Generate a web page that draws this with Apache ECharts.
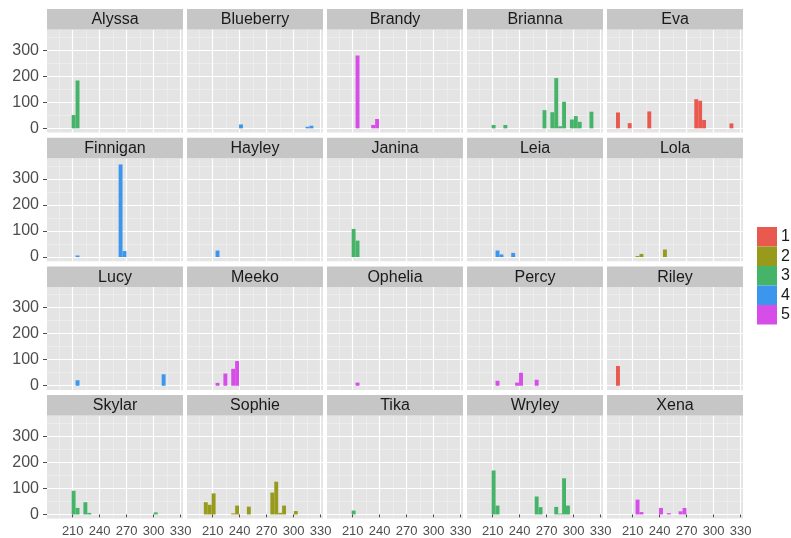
<!DOCTYPE html>
<html>
<head>
<meta charset="utf-8">
<script src="https://cdn.jsdelivr.net/npm/echarts@6/dist/echarts.min.js"></script>
<style>
  html, body { margin: 0; padding: 0; background: #ffffff; }
  #chart { width: 791px; height: 538px; }
</style>
</head>
<body>
<div id="chart"></div>
<script>
// Facet labels, in reading order (5 columns x 4 rows)
const panelNames = [
  'Alyssa', 'Blueberry', 'Brandy', 'Brianna', 'Eva',
  'Finnigan', 'Hayley', 'Janina', 'Leia', 'Lola',
  'Lucy', 'Meeko', 'Ophelia', 'Percy', 'Riley',
  'Skylar', 'Sophie', 'Tika', 'Wryley', 'Xena'
];
// Fill group of each facet
const panelGroups = [3, 4, 5, 3, 1, 4, 4, 3, 4, 2, 4, 5, 5, 5, 1, 3, 2, 3, 3, 5];
const groupNames = ['1', '2', '3', '4', '5'];

// Histogram bins: [bin centre, count]
const BIN_WIDTH = 4.35;
const alyssa = [[211, 51], [215.35, 184]];
const blueberry = [[241.45, 15], [315.4, 6], [319.75, 10]];
const brandy = [[215.35, 280], [232.75, 13], [237.1, 36]];
const brianna = [[211, 13], [224.05, 13], [267.55, 70], [276.25, 62], [280.6, 193], [284.95, 8],
                 [289.3, 102], [298, 34], [302.35, 47], [306.7, 25], [319.75, 64]];
const eva = [[193.6, 61], [206.65, 20], [228.4, 65], [280.6, 112], [284.95, 106], [289.3, 32], [319.75, 19]];
const finnigan = [[215.35, 6], [263.2, 356], [267.55, 23]];
const hayley = [[215.35, 25]];
const janina = [[211, 108], [215.35, 63]];
const leia = [[215.35, 25], [219.7, 10], [232.75, 16]];
const lola = [[215.35, 4], [219.7, 12], [245.8, 29]];
const lucy = [[215.35, 21], [311.05, 44]];
const meeko = [[215.35, 11], [224.05, 47], [232.75, 65], [237.1, 95]];
const ophelia = [[215.35, 12]];
const percy = [[215.35, 19], [237.1, 12], [241.45, 50], [258.85, 23]];
const riley = [[193.6, 76]];
const skylar = [[211, 91], [215.35, 25], [224.05, 47], [228.4, 6], [302.35, 8]];
const sophie = [[202.3, 47], [206.65, 37], [211, 81], [232.75, 4], [237.1, 34], [250.15, 30],
                [276.25, 84], [280.6, 126], [284.95, 6], [289.3, 34], [302.35, 13]];
const tika = [[211, 15]];
const wryley = [[211, 169], [215.35, 34], [258.85, 69], [263.2, 28], [280.6, 29], [284.95, 3],
                [289.3, 139], [293.65, 34]];
const xena = [[215.35, 57], [219.7, 9], [241.45, 25], [250.15, 5], [263.2, 12], [267.55, 25]];

const panelData = [
  alyssa, blueberry, brandy, brianna, eva,
  finnigan, hayley, janina, leia, lola,
  lucy, meeko, ophelia, percy, riley,
  skylar, sophie, tika, wryley, xena
];

// Axis ticks
const xTicks = [210, 240, 270, 300, 330];
const xMinorTicks = [195, 225, 255, 285, 315];
const yTicks = [0, 100, 200, 300];
const yMinorTicks = [50, 150, 250, 350];
const X_MIN = 181.4, X_MAX = 332.6;
const Y_MIN = -16, Y_MAX = 380;

// Styling
const groupColors = ['#E85A50', '#989A1C', '#45B368', '#3D96EE', '#D64DE8'];
const PANEL_BG = '#E4E4E4';
const STRIP_BG = '#C6C6C6';
const AXIS_TEXT = '#4D4D4D';

// Facet layout
const NCOL = 5;
const LEFT0 = 47, COL_PITCH = 140, PANEL_W = 136;
const TOP0 = 29.5, ROW_PITCH = 128.7, PANEL_H = 103, STRIP_H = 20.5;

const grids = [], xAxes = [], yAxes = [], minorX = [], minorY = [], series = [], graphics = [];

panelNames.forEach((name, i) => {
  const col = i % NCOL, row = Math.floor(i / NCOL);
  const left = LEFT0 + col * COL_PITCH;
  const top = TOP0 + row * ROW_PITCH;
  const bottomRow = row === 3, leftCol = col === 0;

  grids.push({
    left: left, top: top, width: PANEL_W, height: PANEL_H,
    show: true, backgroundColor: PANEL_BG, borderWidth: 0
  });

  xAxes.push({
    gridIndex: i, type: 'value', min: X_MIN, max: X_MAX, z: 1,
    axisLine: { show: false },
    axisTick: { show: bottomRow, length: 3, customValues: xTicks, lineStyle: { color: AXIS_TEXT } },
    axisLabel: {
      show: bottomRow, customValues: xTicks, margin: 6,
      fontFamily: "'Liberation Sans', Arial, sans-serif",
      fontSize: 13, color: AXIS_TEXT
    },
    splitLine: { show: true, lineStyle: { color: '#FFFFFF', width: 1.2 } }
  });
  yAxes.push({
    gridIndex: i, type: 'value', min: Y_MIN, max: Y_MAX, z: 1,
    axisLine: { show: false },
    axisTick: { show: leftCol, length: 4, customValues: yTicks, lineStyle: { color: AXIS_TEXT } },
    axisLabel: {
      show: leftCol, customValues: yTicks, margin: 8,
      fontFamily: "'Liberation Sans', Arial, sans-serif", fontSize: 16, color: AXIS_TEXT
    },
    splitLine: { show: true, lineStyle: { color: '#FFFFFF', width: 1.2 } }
  });

  // thinner minor grid lines
  minorX.push({
    gridIndex: i, type: 'value', min: X_MIN, max: X_MAX, z: 0,
    axisLine: { show: false }, axisLabel: { show: false },
    axisTick: { show: false, customValues: xMinorTicks },
    splitLine: { show: true, lineStyle: { color: '#F1F1F1', width: 0.6 } }
  });
  minorY.push({
    gridIndex: i, type: 'value', min: Y_MIN, max: Y_MAX, z: 0,
    axisLine: { show: false }, axisLabel: { show: false },
    axisTick: { show: false, customValues: yMinorTicks },
    splitLine: { show: true, lineStyle: { color: '#F1F1F1', width: 0.6 } }
  });

  // facet strip
  graphics.push({
    type: 'rect', left: left, top: top - STRIP_H, z: 10, silent: true,
    shape: { width: PANEL_W, height: STRIP_H },
    style: { fill: STRIP_BG }
  });
  graphics.push({
    type: 'text', z: 11, silent: true,
    x: left + PANEL_W / 2, y: top - STRIP_H / 2 + 0.5,
    style: {
      text: name, fill: '#1A1A1A', fontSize: 16,
      fontFamily: "'Liberation Sans', Arial, sans-serif",
      align: 'center', verticalAlign: 'middle'
    }
  });

  const g = panelGroups[i] - 1;
  const fill = groupColors[g];
  series.push({
    type: 'custom', name: groupNames[g],
    xAxisIndex: i, yAxisIndex: i, z: 3,
    itemStyle: { color: fill },
    encode: { x: 0, y: 1 },
    data: panelData[i],
    renderItem: function (params, api) {
      const x = api.value(0), c = api.value(1);
      const p0 = api.coord([x - BIN_WIDTH / 2, 0]);
      const p1 = api.coord([x + BIN_WIDTH / 2, c]);
      return {
        type: 'rect',
        shape: { x: p0[0], y: p1[1], width: p1[0] - p0[0], height: p0[1] - p1[1] },
        style: { fill: fill }
      };
    }
  });
});

const chart = echarts.init(document.getElementById('chart'), null, { renderer: 'canvas' });
chart.setOption({
  animation: false,
  backgroundColor: '#FFFFFF',
  grid: grids,
  xAxis: xAxes.concat(minorX),
  yAxis: yAxes.concat(minorY),
  legend: {
    orient: 'vertical', left: 757, top: 227, padding: 0,
    itemWidth: 20, itemHeight: 19.5, itemGap: 0, icon: 'rect',
    selectedMode: false,
    textStyle: { fontSize: 16, color: '#1A1A1A', fontFamily: "'Liberation Sans', Arial, sans-serif", padding: [0, 0, 0, -1] },
    data: groupNames.map((n, k) => ({ name: n, itemStyle: { color: groupColors[k] } }))
  },
  graphic: graphics,
  series: series
});
</script>
</body>
</html>
